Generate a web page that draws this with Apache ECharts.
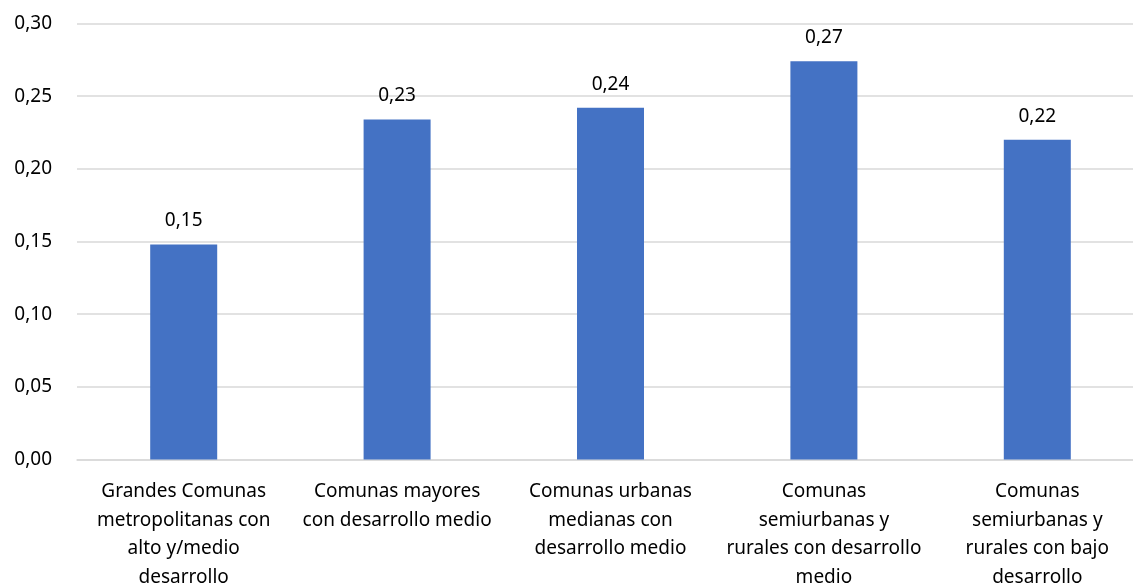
<!DOCTYPE html>
<html>
<head>
<meta charset="utf-8">
<script src="https://cdn.jsdelivr.net/npm/echarts@6/dist/echarts.min.js"></script>
<style>
  html, body { margin: 0; padding: 0; background: #ffffff; }
  #chart { width: 1133px; height: 586px; }
</style>
</head>
<body>
<div id="chart"></div>
<script>
// Category names, wrapped as they appear under the axis
const categories = [
  'Grandes Comunas\nmetropolitanas con\nalto y/medio\ndesarrollo',
  'Comunas mayores\ncon desarrollo medio',
  'Comunas urbanas\nmedianas con\ndesarrollo medio',
  'Comunas\nsemiurbanas y\nrurales con desarrollo\nmedio',
  'Comunas\nsemiurbanas y\nrurales con bajo\ndesarrollo'
];
// Indicator value per commune group
const values = [0.148, 0.234, 0.242, 0.274, 0.220];
// Value axis range
const yMin = 0, yMax = 0.30, yStep = 0.05;

const fmt = v => v.toFixed(2).replace('.', ',');
const font = '"Noto Sans", "Open Sans", sans-serif';

const chart = echarts.init(document.getElementById('chart'), null, { renderer: 'canvas' });
chart.setOption({
  animation: false,
  backgroundColor: '#ffffff',
  grid: {
    left: 77, top: 23.5, width: 1067, height: 436,
    containLabel: false, outerBoundsMode: 'none'
  },
  xAxis: {
    type: 'category',
    data: categories,
    axisLine: { show: true, lineStyle: { color: '#d9d9d9', width: 1.5 } },
    axisTick: { show: false },
    axisLabel: {
      interval: 0, color: '#000000', fontFamily: font, fontSize: 19,
      lineHeight: 28.5, margin: 18
    }
  },
  yAxis: {
    type: 'value',
    min: yMin, max: yMax, interval: yStep,
    axisLine: { show: false },
    axisTick: { show: false },
    splitLine: { lineStyle: { color: '#d9d9d9', width: 1.5 } },
    axisLabel: {
      color: '#000000', fontFamily: font, fontSize: 19, margin: 25,
      formatter: v => fmt(v)
    }
  },
  series: [{
    type: 'bar',
    data: values,
    barWidth: 67,
    itemStyle: { color: '#4472C4' },
    label: {
      show: true, position: 'top', distance: 14,
      color: '#000000', fontFamily: font, fontSize: 19,
      formatter: p => fmt(p.value)
    }
  }]
});
</script>
</body>
</html>
